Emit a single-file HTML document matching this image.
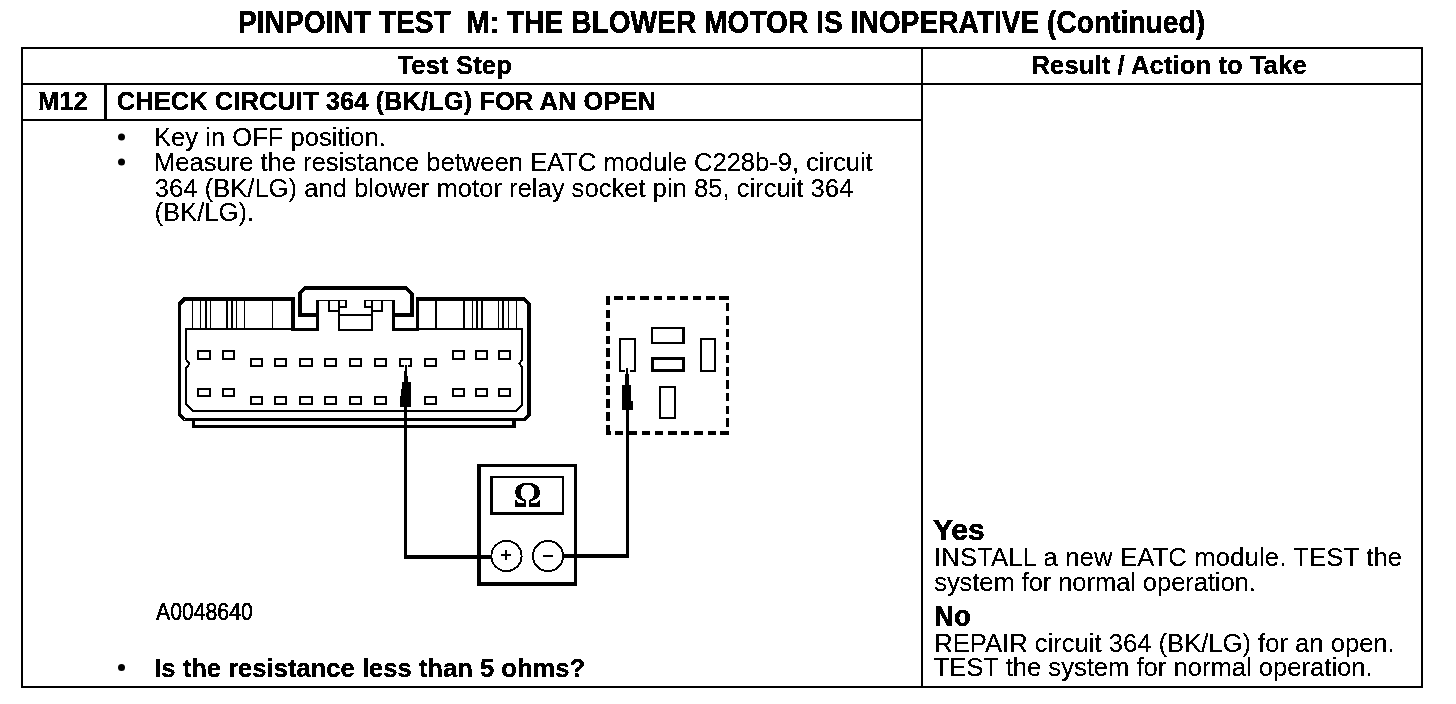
<!DOCTYPE html>
<html>
<head>
<meta charset="utf-8">
<style>
html,body{margin:0;padding:0;background:#fff;}
body{width:1456px;height:704px;position:relative;overflow:hidden;}
.t{position:absolute;white-space:pre;line-height:1;font-family:"Liberation Sans",sans-serif;color:#000;font-size:25.6px;transform-origin:0 0;}
.b{font-weight:bold;-webkit-text-stroke:0.3px #000;}
.r{-webkit-text-stroke:0.15px #000;}
svg{position:absolute;left:0;top:0;}
</style>
</head>
<body>
<svg width="1456" height="704" viewBox="0 0 1456 704">
  <!-- table lines -->
  <g fill="#000" shape-rendering="crispEdges">
    <rect x="21" y="47" width="1402" height="2"/>
    <rect x="21" y="686" width="1402" height="2"/>
    <rect x="21" y="47" width="2" height="641"/>
    <rect x="1421" y="47" width="2" height="641"/>
    <rect x="921" y="47" width="2" height="641"/>
    <rect x="21" y="83" width="1402" height="2"/>
    <rect x="21" y="119" width="902" height="2"/>
    <rect x="104" y="84" width="3" height="36"/>
  </g>
  <!-- bullets -->
  <g fill="#000">
    <circle cx="121.5" cy="137" r="3.5"/>
    <circle cx="121.5" cy="162" r="3.5"/>
    <circle cx="121.5" cy="667.4" r="3.5"/>
  </g>
  <defs><filter id="thr" x="0" y="0" width="100%" height="100%"><feComponentTransfer><feFuncA type="discrete" tableValues="0 1"/></feComponentTransfer></filter></defs>
  <g id="diagram" fill="#000" shape-rendering="crispEdges">
<path d="M293,331 V299 H184.5 L179.5,304 V414.5 L184.5,419.5 H524.5 L529,415 V304 L524,299 H417.5 V331" fill="none" stroke="#000" stroke-width="3.6" stroke-linejoin="miter"/>
<path d="M318,315 H300 V293 L305,288 H406 L411.5,293.5 V315 H393" fill="none" stroke="#000" stroke-width="4" stroke-linejoin="miter"/>
<rect x="185" y="328" width="106" height="2"/>
<rect x="291" y="328" width="28" height="3"/>
<rect x="392" y="328" width="27" height="3"/>
<rect x="419" y="328" width="104" height="2"/>
<rect x="316" y="300" width="3" height="31"/>
<rect x="392" y="300" width="3" height="31"/>
<rect x="316" y="300" width="31" height="1.2"/>
<rect x="364" y="300" width="31" height="1.2"/>
<rect x="328" y="300" width="2" height="12"/>
<rect x="328" y="310" width="12" height="2"/>
<rect x="338" y="300" width="2" height="31"/>
<rect x="345" y="300" width="2" height="8"/>
<rect x="339" y="306" width="8" height="2"/>
<rect x="339" y="314" width="34" height="2"/>
<rect x="339" y="329" width="34" height="2"/>
<rect x="371" y="300" width="2" height="31"/>
<rect x="364" y="300" width="2" height="8"/>
<rect x="364" y="306" width="8" height="2"/>
<rect x="381" y="300" width="2" height="12"/>
<rect x="371" y="310" width="12" height="2"/>
<rect x="192" y="301" width="1.3" height="27"/>
<rect x="200" y="301" width="1.3" height="27"/>
<rect x="205" y="301" width="2" height="27"/>
<rect x="210" y="301" width="1.3" height="27"/>
<rect x="226" y="301" width="2" height="27"/>
<rect x="231" y="301" width="2" height="27"/>
<rect x="236" y="301" width="1.3" height="27"/>
<rect x="244" y="301" width="1.3" height="27"/>
<rect x="272" y="301" width="1.3" height="27"/>
<rect x="435" y="301" width="1.6" height="27"/>
<rect x="463" y="301" width="2" height="27"/>
<rect x="472" y="301" width="1.3" height="27"/>
<rect x="476" y="301" width="2" height="27"/>
<rect x="481" y="301" width="2" height="27"/>
<rect x="498" y="301" width="1.3" height="27"/>
<rect x="502" y="301" width="2" height="27"/>
<rect x="508" y="301" width="1.3" height="27"/>
<rect x="516" y="301" width="1.3" height="27"/>
<path d="M186,330 V359.5 L189.5,364 L186,368 V404 L193,411 H516 L522.4,404.6 V368 L519.5,363.5 L522.4,359.5 V330" fill="none" stroke="#000" stroke-width="2" />
<path d="M193.5,420 V426.2 H514 V420" fill="none" stroke="#000" stroke-width="3.2" />
<rect x="197" y="350" width="14" height="2"/>
<rect x="197" y="358" width="14" height="2"/>
<rect x="197" y="350" width="2" height="10"/>
<rect x="209" y="350" width="2" height="10"/>
<rect x="197" y="388" width="14" height="2"/>
<rect x="197" y="395" width="14" height="2"/>
<rect x="197" y="388" width="2" height="9"/>
<rect x="209" y="388" width="2" height="9"/>
<rect x="222" y="350" width="13" height="2"/>
<rect x="222" y="358" width="13" height="2"/>
<rect x="222" y="350" width="2" height="10"/>
<rect x="233" y="350" width="2" height="10"/>
<rect x="222" y="388" width="13" height="2"/>
<rect x="222" y="395" width="13" height="2"/>
<rect x="222" y="388" width="2" height="9"/>
<rect x="233" y="388" width="2" height="9"/>
<rect x="250" y="358" width="13" height="2"/>
<rect x="250" y="365" width="13" height="2"/>
<rect x="250" y="358" width="2" height="9"/>
<rect x="261" y="358" width="2" height="9"/>
<rect x="250" y="396" width="13" height="2"/>
<rect x="250" y="403" width="13" height="2"/>
<rect x="250" y="396" width="2" height="9"/>
<rect x="261" y="396" width="2" height="9"/>
<rect x="274" y="358" width="13" height="2"/>
<rect x="274" y="365" width="13" height="2"/>
<rect x="274" y="358" width="2" height="9"/>
<rect x="285" y="358" width="2" height="9"/>
<rect x="274" y="396" width="13" height="2"/>
<rect x="274" y="403" width="13" height="2"/>
<rect x="274" y="396" width="2" height="9"/>
<rect x="285" y="396" width="2" height="9"/>
<rect x="299" y="358" width="14" height="2"/>
<rect x="299" y="365" width="14" height="2"/>
<rect x="299" y="358" width="2" height="9"/>
<rect x="311" y="358" width="2" height="9"/>
<rect x="299" y="396" width="14" height="2"/>
<rect x="299" y="403" width="14" height="2"/>
<rect x="299" y="396" width="2" height="9"/>
<rect x="311" y="396" width="2" height="9"/>
<rect x="324" y="358" width="13" height="2"/>
<rect x="324" y="365" width="13" height="2"/>
<rect x="324" y="358" width="2" height="9"/>
<rect x="335" y="358" width="2" height="9"/>
<rect x="324" y="396" width="13" height="2"/>
<rect x="324" y="403" width="13" height="2"/>
<rect x="324" y="396" width="2" height="9"/>
<rect x="335" y="396" width="2" height="9"/>
<rect x="349" y="358" width="13" height="2"/>
<rect x="349" y="365" width="13" height="2"/>
<rect x="349" y="358" width="2" height="9"/>
<rect x="360" y="358" width="2" height="9"/>
<rect x="349" y="396" width="13" height="2"/>
<rect x="349" y="403" width="13" height="2"/>
<rect x="349" y="396" width="2" height="9"/>
<rect x="360" y="396" width="2" height="9"/>
<rect x="374" y="358" width="13" height="2"/>
<rect x="374" y="365" width="13" height="2"/>
<rect x="374" y="358" width="2" height="9"/>
<rect x="385" y="358" width="2" height="9"/>
<rect x="374" y="396" width="13" height="2"/>
<rect x="374" y="403" width="13" height="2"/>
<rect x="374" y="396" width="2" height="9"/>
<rect x="385" y="396" width="2" height="9"/>
<rect x="399" y="358" width="13" height="2"/>
<rect x="399" y="358" width="2" height="9"/>
<rect x="410" y="358" width="2" height="9"/>
<rect x="399" y="365" width="5" height="2"/>
<rect x="408" y="365" width="4" height="2"/>
<rect x="424" y="358" width="13" height="2"/>
<rect x="424" y="365" width="13" height="2"/>
<rect x="424" y="358" width="2" height="9"/>
<rect x="435" y="358" width="2" height="9"/>
<rect x="424" y="396" width="13" height="2"/>
<rect x="424" y="403" width="13" height="2"/>
<rect x="424" y="396" width="2" height="9"/>
<rect x="435" y="396" width="2" height="9"/>
<rect x="452" y="350" width="13" height="2"/>
<rect x="452" y="358" width="13" height="2"/>
<rect x="452" y="350" width="2" height="10"/>
<rect x="463" y="350" width="2" height="10"/>
<rect x="452" y="388" width="13" height="2"/>
<rect x="452" y="395" width="13" height="2"/>
<rect x="452" y="388" width="2" height="9"/>
<rect x="463" y="388" width="2" height="9"/>
<rect x="475" y="350" width="13" height="2"/>
<rect x="475" y="358" width="13" height="2"/>
<rect x="475" y="350" width="2" height="10"/>
<rect x="486" y="350" width="2" height="10"/>
<rect x="475" y="388" width="13" height="2"/>
<rect x="475" y="395" width="13" height="2"/>
<rect x="475" y="388" width="2" height="9"/>
<rect x="486" y="388" width="2" height="9"/>
<rect x="498" y="350" width="13" height="2"/>
<rect x="498" y="358" width="13" height="2"/>
<rect x="498" y="350" width="2" height="10"/>
<rect x="509" y="350" width="2" height="10"/>
<rect x="498" y="388" width="13" height="2"/>
<rect x="498" y="395" width="13" height="2"/>
<rect x="498" y="388" width="2" height="9"/>
<rect x="509" y="388" width="2" height="9"/>
<rect x="405" y="365" width="2" height="6"/>
<rect x="404" y="371" width="3.4" height="5"/>
<rect x="404" y="376" width="4.4" height="6"/>
<rect x="402" y="382" width="9" height="7"/>
<rect x="401" y="389" width="10" height="7"/>
<rect x="400" y="395.7" width="11" height="11.3"/>
<rect x="409" y="382" width="2" height="1"/>
<rect x="404" y="407" width="3" height="151"/>
<rect x="404" y="555" width="87" height="3.5"/>
<rect x="477" y="464" width="100" height="3"/>
<rect x="477" y="582" width="100" height="3.6"/>
<rect x="477" y="464" width="4" height="121.6"/>
<rect x="574" y="464" width="3" height="121.6"/>
<rect x="490" y="476" width="74" height="1.6"/>
<rect x="490" y="512" width="74" height="3"/>
<rect x="490" y="476" width="3" height="39"/>
<rect x="562" y="476" width="2" height="39"/>
<text x="527.5" y="507" text-anchor="middle" font-family="Liberation Serif" font-weight="bold" font-size="35" filter="url(#thr)">&#937;</text>
<circle cx="506.5" cy="556" r="15.1" fill="none" stroke="#000" stroke-width="1.9"/>
<circle cx="548" cy="556" r="15.1" fill="none" stroke="#000" stroke-width="1.9"/>
<rect x="501" y="554.4" width="10" height="2"/>
<rect x="505" y="550" width="2" height="10"/>
<rect x="543" y="554.7" width="10" height="2.2"/>
<rect x="563.5" y="554" width="65.5" height="3.5"/>
<rect x="626" y="410" width="3" height="148"/>
<rect x="606" y="296" width="4" height="9"/>
<rect x="606" y="310" width="4" height="8"/>
<rect x="606" y="322" width="4" height="9"/>
<rect x="606" y="336" width="4" height="8"/>
<rect x="606" y="348" width="4" height="9"/>
<rect x="606" y="361" width="4" height="8"/>
<rect x="606" y="374" width="4" height="8"/>
<rect x="606" y="386" width="4" height="9"/>
<rect x="606" y="399" width="4" height="9"/>
<rect x="606" y="412" width="4" height="9"/>
<rect x="606" y="425" width="4" height="10"/>
<rect x="726" y="303" width="3" height="8"/>
<rect x="726" y="316" width="3" height="9"/>
<rect x="726" y="329" width="3" height="8"/>
<rect x="726" y="342" width="3" height="8"/>
<rect x="726" y="354.5" width="3" height="8.5"/>
<rect x="726" y="367" width="3" height="8.5"/>
<rect x="726" y="380" width="3" height="9"/>
<rect x="726" y="393" width="3" height="8"/>
<rect x="726" y="406" width="3" height="8"/>
<rect x="726" y="418" width="3" height="9"/>
<rect x="614" y="296" width="9" height="4"/>
<rect x="627" y="296" width="8" height="4"/>
<rect x="640" y="296" width="9" height="4"/>
<rect x="654" y="296" width="8" height="4"/>
<rect x="666.8" y="296" width="8.5" height="4"/>
<rect x="680" y="296" width="8" height="4"/>
<rect x="693" y="296" width="8" height="4"/>
<rect x="706" y="296" width="9" height="4"/>
<rect x="719" y="296" width="10" height="4"/>
<rect x="606" y="431" width="5" height="4"/>
<rect x="615" y="431" width="8" height="4"/>
<rect x="629" y="431" width="8" height="4"/>
<rect x="642" y="431" width="8" height="4"/>
<rect x="655" y="431" width="8" height="4"/>
<rect x="668" y="431" width="9" height="4"/>
<rect x="681" y="431" width="8" height="4"/>
<rect x="694" y="431" width="9" height="4"/>
<rect x="708" y="431" width="8" height="4"/>
<rect x="720" y="431" width="9" height="4"/>
<rect x="619" y="338" width="17" height="2"/>
<rect x="619" y="338" width="2" height="33.5"/>
<rect x="634" y="338" width="2" height="33.5"/>
<rect x="619" y="369.8" width="6" height="2"/>
<rect x="630" y="369.8" width="6" height="2"/>
<rect x="651" y="327" width="34" height="2"/>
<rect x="651" y="342" width="34" height="2"/>
<rect x="651" y="327" width="2" height="17"/>
<rect x="682" y="327" width="3" height="17"/>
<rect x="651" y="356.6" width="34" height="3"/>
<rect x="651" y="369" width="34" height="3"/>
<rect x="651" y="356.6" width="3" height="15.399999999999977"/>
<rect x="682" y="356.6" width="3" height="15.399999999999977"/>
<rect x="700" y="338" width="16" height="2"/>
<rect x="700" y="369.5" width="16" height="2"/>
<rect x="700" y="338" width="2" height="33.5"/>
<rect x="714" y="338" width="2" height="33.5"/>
<rect x="659" y="386" width="17" height="2"/>
<rect x="659" y="417" width="17" height="2"/>
<rect x="659" y="386" width="2" height="33"/>
<rect x="674" y="386" width="2" height="33"/>
<rect x="626" y="368" width="2.3" height="6.4"/>
<rect x="625.1" y="374.4" width="4" height="10.6"/>
<rect x="622" y="385" width="9.2" height="25.4"/>
<rect x="631" y="401.2" width="1.8" height="9.2"/>

</g>
</svg>
<div id="txt" style="position:absolute;left:0;top:0;width:1456px;height:704px;filter:url(#thr)">
<div class="t b" style="left:237.6px;top:7.45px;font-size:30.5px;transform:scaleX(0.923);-webkit-text-stroke:0.4px #000">PINPOINT TEST  M: THE BLOWER MOTOR IS INOPERATIVE (Continued)</div>
<div class="t b" style="left:397.5px;top:53.3px;letter-spacing:0.13px">Test Step</div>
<div class="t b" style="left:1031.5px;top:53.3px;letter-spacing:0.1px">Result / Action to Take</div>
<div class="t b" style="left:38px;top:89.3px">M12</div>
<div class="t b" style="left:116.7px;top:89.3px">CHECK CIRCUIT 364 (BK/LG) FOR AN OPEN</div>

<div class="t r" style="left:154px;top:125.3px">Key in OFF position.</div>
<div class="t r" style="left:154px;top:150.3px;letter-spacing:-0.035px">Measure the resistance between EATC module C228b-9, circuit</div>
<div class="t r" style="left:154.8px;top:175.5px">364 (BK/LG) and blower motor relay socket pin 85, circuit 364</div>
<div class="t r" style="left:154.5px;top:200.3px">(BK/LG).</div>

<div class="t r" style="left:156px;top:601px;font-size:23.2px;transform:scaleX(0.915);-webkit-text-stroke:0.5px #000">A0048640</div>
<div class="t b" style="left:154.2px;top:655.6px">Is the resistance less than 5 ohms?</div>

<div class="t b" style="left:932.9px;top:515.3px;font-size:30px;-webkit-text-stroke:0.5px #000">Yes</div>
<div class="t r" style="left:934px;top:545.3px;letter-spacing:0.17px">INSTALL a new EATC module. TEST the</div>
<div class="t r" style="left:934.2px;top:570.3px;letter-spacing:-0.1px">system for normal operation.</div>
<div class="t b" style="left:934px;top:601.4px;font-size:30px;transform:scaleX(0.92);-webkit-text-stroke:0.5px #000">No</div>
<div class="t r" style="left:934.3px;top:631.0px">REPAIR circuit 364 (BK/LG) for an open.</div>
<div class="t r" style="left:933.6px;top:655.3px">TEST the system for normal operation.</div>
</div>
</body>
</html>
